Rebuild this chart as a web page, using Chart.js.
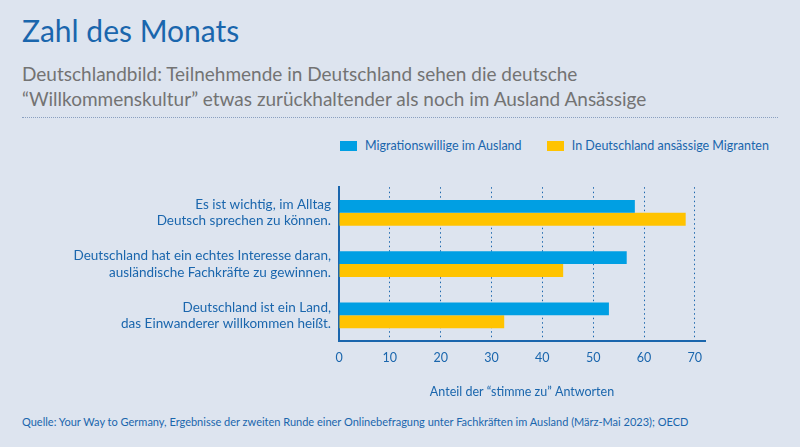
<!DOCTYPE html>
<html lang="de">
<head>
<meta charset="UTF-8">
<title>Zahl des Monats</title>
<script src="https://cdn.jsdelivr.net/npm/chart.js"></script>
<style>
  body { margin: 0; width: 800px; height: 447px; background: #dde4ef; font-family: Lato, "Noto Sans", sans-serif; position: relative; overflow: hidden; }
  .titel { position: absolute; left: 22px; top: 12px; font-size: 30px; color: #1a66ad; }
  .sub { position: absolute; left: 22px; top: 61px; font-size: 19px; line-height: 25px; color: #737373; }
  .linie { position: absolute; left: 22px; right: 22px; top: 117px; border-top: 1px dotted #8aa0c0; }
  .legende { position: absolute; top: 137px; left: 340px; font-size: 12.5px; color: #1a66ad; }
  .legende span { display: inline-block; vertical-align: middle; }
  .box { width: 17px; height: 10px; margin-right: 8px; }
  .quelle { position: absolute; left: 22px; top: 415px; font-size: 11px; color: #1a66ad; }
  #wrap { position: absolute; left: 0; top: 163px; width: 800px; height: 240px; }
</style>
</head>
<body>
<div class="titel">Zahl des Monats</div>
<div class="sub">Deutschlandbild: Teilnehmende in Deutschland sehen die deutsche<br>“Willkommenskultur” etwas zurückhaltender als noch im Ausland Ansässige</div>
<div class="linie"></div>
<div class="legende">
  <span class="box" style="background:#009fe3"></span><span style="margin-right:22px">Migrationswillige im Ausland</span>
  <span class="box" style="background:#ffc300"></span><span>In Deutschland ansässige Migranten</span>
</div>
<div id="wrap"><canvas id="grafico"></canvas></div>
<div class="quelle">Quelle: Your Way to Germany, Ergebnisse der zweiten Runde einer Onlinebefragung unter Fachkräften im Ausland (März-Mai 2023); OECD</div>

<script>
// ================= DATEN =================
const kategorien = [
  ["Es ist wichtig, im Alltag", "Deutsch sprechen zu können."],
  ["Deutschland hat ein echtes Interesse daran,", "ausländische Fachkräfte zu gewinnen."],
  ["Deutschland ist ein Land,", "das Einwanderer willkommen heißt."]
];
const imAusland = [58.2, 56.6, 53.1];
const inDeutschland = [68.2, 44.1, 32.5];
const ticksX = [0, 10, 20, 30, 40, 50, 60, 70];

const blau = "#1a66ad";

new Chart(document.getElementById("grafico"), {
  type: "bar",
  data: {
    labels: kategorien,
    datasets: [
      { label: "Migrationswillige im Ausland", data: imAusland, backgroundColor: "#009fe3" },
      { label: "In Deutschland ansässige Migranten", data: inDeutschland, backgroundColor: "#ffc300" }
    ]
  },
  options: {
    indexAxis: "y",
    responsive: true,
    maintainAspectRatio: false,
    animation: false,
    layout: { padding: { top: 15, right: 95, bottom: 0 } },
    categoryPercentage: 0.5,
    barPercentage: 1,
    plugins: { legend: { display: false }, tooltip: { enabled: false } },
    scales: {
      x: {
        min: 0, max: 72,
        afterBuildTicks: s => { s.ticks = ticksX.map(v => ({ value: v })); },
        ticks: { color: blau, font: { size: 12.5, family: "Lato" }, padding: 9 },
        grid: { color: c => c.tick && c.tick.value === 0 ? "rgba(0,0,0,0)" : blau, drawTicks: false, lineWidth: 1 },
        border: { display: true, color: blau, width: 2, dash: [1.5, 3] },
        title: { display: true, text: "Anteil der “stimme zu” Antworten", color: blau, font: { size: 12.5, family: "Lato" }, padding: { top: 10 } }
      },
      y: {
        afterFit: s => { s.width = 339; },
        ticks: { color: blau, font: { size: 13.5, family: "Lato" }, padding: 8 },
        grid: { display: false, drawTicks: false },
        border: { display: true, color: blau, width: 2 }
      }
    }
  }
});
</script>
</body>
</html>
